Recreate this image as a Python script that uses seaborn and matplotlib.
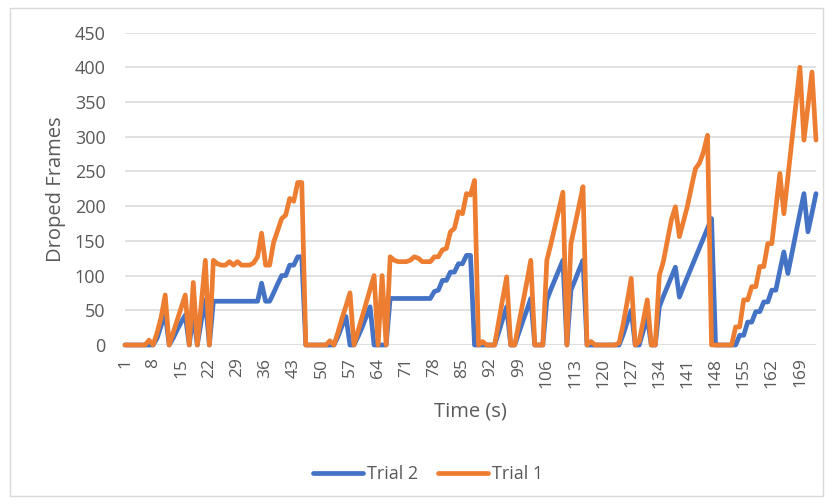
import numpy as np
import pandas as pd
import matplotlib
matplotlib.use("Agg")
import matplotlib.pyplot as plt
from matplotlib.patches import Rectangle
import seaborn as sns

# Time axis: one sample per second
seconds = list(range(1, 174))

# Dropped frames per second, Trial 1
trial1 = (
    [0, 0, 0, 0, 0, 0]
    + [7, 0, 18, 40, 72, 0, 18, 36, 54, 72, 0, 90, 0, 60, 122, 0]
    + [122, 117, 115, 115, 120, 115, 120, 115, 115, 115, 118, 127, 161, 115,
       115, 148, 165, 182, 187, 211, 207, 234, 234, 0]
    + [0, 0, 0, 0, 0, 6, 0, 18, 38, 56, 75, 0, 20, 40, 60, 80, 100, 0, 100, 0]
    + [127, 122, 120, 120, 120, 122, 127, 125, 120, 120, 120, 127, 127, 137,
       139, 163, 168, 192, 189, 218, 216, 237, 0]
    + [5, 0, 0, 0, 33, 66, 98, 0, 0, 30, 60, 90, 122, 0, 0, 0, 122, 145, 170,
       195, 220, 0, 146, 173, 200, 228, 0]
    + [5, 0, 0, 0, 0, 0, 0, 3, 30, 62, 96, 0, 5, 35, 65, 0, 0, 100, 120, 150,
       180, 199, 156, 178, 200, 228, 254, 262, 278, 302, 0]
    + [0, 0, 0, 0, 0, 26, 26, 65, 65, 84, 84, 113, 113, 146, 146, 196, 247,
       189, 242, 295, 347, 400, 295, 344, 393, 295]
)

# Dropped frames per second, Trial 2
trial2 = (
    [0, 0, 0, 0, 0, 0, 0, 0, 10, 28, 45, 0, 10, 22, 33, 43, 0, 45, 0, 35, 65, 0]
    + [63] * 12
    + [89, 63, 63, 75, 88, 100, 100, 115, 115, 127, 127, 0]
    + [0, 0, 0, 0, 0, 0, 0, 12, 27, 41, 0, 0, 12, 25, 40, 55, 0, 0, 0, 0]
    + [67] * 11
    + [77, 79, 93, 93, 105, 105, 117, 117, 129, 129, 0]
    + [0, 0, 0, 0, 0, 18, 37, 55, 0, 0, 17, 34, 50, 67, 0, 0, 0, 65, 80, 94,
       108, 122, 0, 79, 93, 108, 122, 0]
    + [0] * 8
    + [15, 33, 50, 0, 0, 20, 40, 0, 0, 55, 70, 84, 98, 112, 69, 84, 98, 112,
       126, 140, 154, 168, 182, 0]
    + [0, 0, 0, 0, 0, 14, 14, 33, 33, 48, 48, 62, 62, 79, 79, 107, 134, 103,
       132, 161, 190, 218, 163, 190, 218]
)

series_names = ["Trial 2", "Trial 1"]
series_colors = {"Trial 2": "#4472C4", "Trial 1": "#ED7D31"}
x_tick_values = list(range(1, 174, 7))
y_tick_values = list(range(0, 451, 50))

df = pd.concat([
    pd.DataFrame({"Time": seconds, "Frames": trial2, "Trial": "Trial 2"}),
    pd.DataFrame({"Time": seconds, "Frames": trial1, "Trial": "Trial 1"}),
], ignore_index=True)

sns.set_theme(style="white")
plt.rcParams["font.family"] = ["Open Sans", "DejaVu Sans"]

W, H = 833, 504
L, R, T, B = 125, 816, 32.5, 345
fig = plt.figure(figsize=(W / 100, H / 100), dpi=100)
ax = fig.add_axes([L / W, 1 - B / H, (R - L) / W, (B - T) / H])

sns.lineplot(data=df, x="Time", y="Frames", hue="Trial", hue_order=series_names,
             palette=series_colors, linewidth=3.4, ax=ax, legend=True,
             estimator=None, sort=False)
for ln in ax.get_lines():
    ln.set_solid_joinstyle("round")
    ln.set_solid_capstyle("round")
    ln.set_clip_on(False)

ax.set_xlim(1, 173)
ax.set_ylim(0, 450)
ax.set_xticks(x_tick_values)
ax.set_xticklabels([str(v) for v in x_tick_values], rotation=90)
ax.set_yticks(y_tick_values)
ax.set_yticklabels([str(v) for v in y_tick_values])

ax.yaxis.grid(True, color="#D9D9D9", linewidth=1.1)
ax.xaxis.grid(False)
ax.set_axisbelow(True)
for s in ax.spines.values():
    s.set_visible(False)

ax.tick_params(axis="x", length=0, pad=9, labelsize=12.5, labelcolor="#595959")
ax.tick_params(axis="y", length=0, pad=14, labelsize=13, labelcolor="#595959")

ax.set_xlabel("Time (s)", fontsize=14.5, color="#595959")
ax.set_ylabel("Droped Frames", fontsize=14.5, color="#595959")
ax.xaxis.set_label_coords((470 - L) / (R - L), -(401 - B) / (B - T))
ax.yaxis.set_label_coords(-(L - 66) / (R - L), 0.5)

handles, labels = ax.get_legend_handles_labels()
ax.legend(handles, labels, ncol=2, frameon=False, fontsize=13,
          labelcolor="#595959", handlelength=2.8, handletextpad=0.2,
          columnspacing=1.1, loc="center",
          bbox_to_anchor=(428 / W, 1 - 474 / H), bbox_transform=fig.transFigure)

# Light chart-area border
fig.patches.append(Rectangle((10 / W, 8 / H), (823 - 10) / W, (496 - 8) / H,
                             transform=fig.transFigure, fill=False,
                             edgecolor="#D9D9D9", linewidth=1.0))

fig.savefig("out.png", dpi=100)
